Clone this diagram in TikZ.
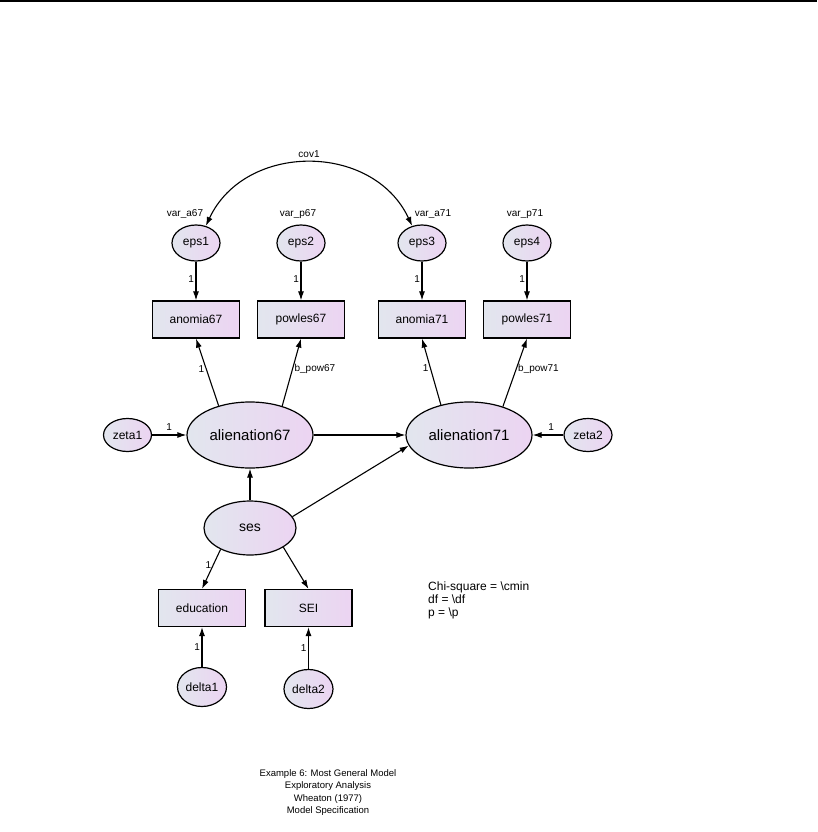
\documentclass[tikz,border=0pt]{standalone}
\usepackage{fontspec}
\setmainfont{Liberation Sans}
\usetikzlibrary{shapes.geometric,arrows.meta}
\definecolor{shadeL}{HTML}{E2E6EE}
\definecolor{shadeR}{HTML}{ECD4F2}
\begin{document}
\begin{tikzpicture}[x=1pt,y=1pt,
  lat/.style={ellipse, draw, line width=1.2pt, inner sep=0pt, left color=shadeL, right color=shadeR, font=\fontsize{12}{14}\selectfont},
  big/.style={lat, minimum width=126pt, minimum height=66pt, font=\fontsize{15}{17}\selectfont},
  small/.style={lat, minimum width=48pt, minimum height=36pt},
  box/.style={rectangle, draw, line width=1.2pt, minimum width=87pt, minimum height=37pt, inner sep=0pt, left color=shadeL, right color=shadeR, font=\fontsize{12}{14}\selectfont},
  lbl/.style={font=\fontsize{10}{12}\selectfont, inner sep=1.5pt},
  txt/.style={font=\fontsize{12}{13}\selectfont, inner sep=0pt},
  arr/.style={line width=1.1pt, -{Latex[length=9pt,width=6pt]}},
  dbl/.style={line width=1.1pt, {Latex[length=9pt,width=6pt]}-{Latex[length=9pt,width=6pt]}}]
\useasboundingbox (0,0) rectangle (817,-832);
\draw[line width=2pt] (0,-1.5) -- (817,-1.5);

% error terms
\node[small] (eps1) at (196,-243) {eps1};
\node[small] (eps2) at (301,-243) {eps2};
\node[small] (eps3) at (422,-243) {eps3};
\node[small] (eps4) at (527,-243) {eps4};
\node[lbl] (va67) at (185,-214) {var\_a67};
\node[lbl] (vp67) at (298,-214) {var\_p67};
\node[lbl] (va71) at (433,-214) {var\_a71};
\node[lbl] (vp71) at (525,-214) {var\_p71};

% observed
\node[box] (anomia67) at (196,-319.5) {anomia67};
\node[box] (powles67) at (301,-319.5) {powles67};
\node[box] (anomia71) at (422,-319.5) {anomia71};
\node[box] (powles71) at (527,-319.5) {powles71};
\node[box] (education) at (202,-608) {education};
\node[box] (SEI) at (308.5,-608) {SEI};

% latent
\node[big] (alienation67) at (250,-435) {alienation67};
\node[big] (alienation71) at (469,-435) {alienation71};
\node[lat, minimum width=92pt, minimum height=54pt, font=\fontsize{14}{16}\selectfont] (ses) at (250,-528) {ses};
\node[lat, minimum width=48pt, minimum height=33pt] (zeta1) at (127.5,-435) {zeta1};
\node[lat, minimum width=48pt, minimum height=33pt] (zeta2) at (588,-435) {zeta2};
\node[lat, minimum width=49pt, minimum height=39pt] (delta1) at (202,-687) {delta1};
\node[lat, minimum width=49pt, minimum height=39pt] (delta2) at (308.5,-689) {delta2};

% connectors
\draw[dbl] (eps1.60) to[out=65, in=115, looseness=1.15] node[lbl, above=3pt, pos=0.5] (cov1) {cov1} (eps3.120);
\draw[arr] (eps1) -- node[lbl, left, pos=0.45] {1} (anomia67);
\draw[arr] (eps2) -- node[lbl, left, pos=0.45] {1} (powles67);
\draw[arr] (eps3) -- node[lbl, left, pos=0.45] {1} (anomia71);
\draw[arr] (eps4) -- node[lbl, left, pos=0.45] {1} (powles71);

\draw[arr] (alienation67.137) -- node[lbl, left, pos=0.55] {1} (anomia67.south);
\draw[arr] (alienation67.42) -- node[lbl, right, pos=0.55] {b\_pow67} (powles67.south);
\draw[arr] (alienation71.133) -- node[lbl, left, pos=0.55] {1} (anomia71.south);
\draw[arr] (alienation71.40) -- node[lbl, right, pos=0.55] {b\_pow71} (powles71.south);

\draw[arr] (zeta1) -- node[lbl, above=2pt] {1} (alienation67);
\draw[arr] (zeta2) -- node[lbl, above=2pt, pos=0.4] {1} (alienation71);
\draw[arr] (alienation67) -- (alienation71);
\draw[arr] (ses) -- (alienation67);
\draw[arr] (ses.15) -- (alienation71.190);
\draw[arr] (ses.216) -- node[lbl, left, pos=0.4] {1} (education.north);
\draw[arr] (ses.330) -- (SEI.north);
\draw[arr] (delta1) -- node[lbl, left] {1} (education);
\draw[arr] (delta2) -- node[lbl, left] {1} (SEI);

% texts
\node[txt, anchor=north west, align=left] (chi) at (428,-581.5) {Chi-square = \textbackslash cmin\\df = \textbackslash df\\p = \textbackslash p};
\node[txt, align=center, font=\fontsize{9.5}{12.3}\selectfont] (cap) at (328,-792.5) {Example 6: Most General Model\\Exploratory Analysis\\Wheaton (1977)\\Model Specification};
\end{tikzpicture}
\end{document}
